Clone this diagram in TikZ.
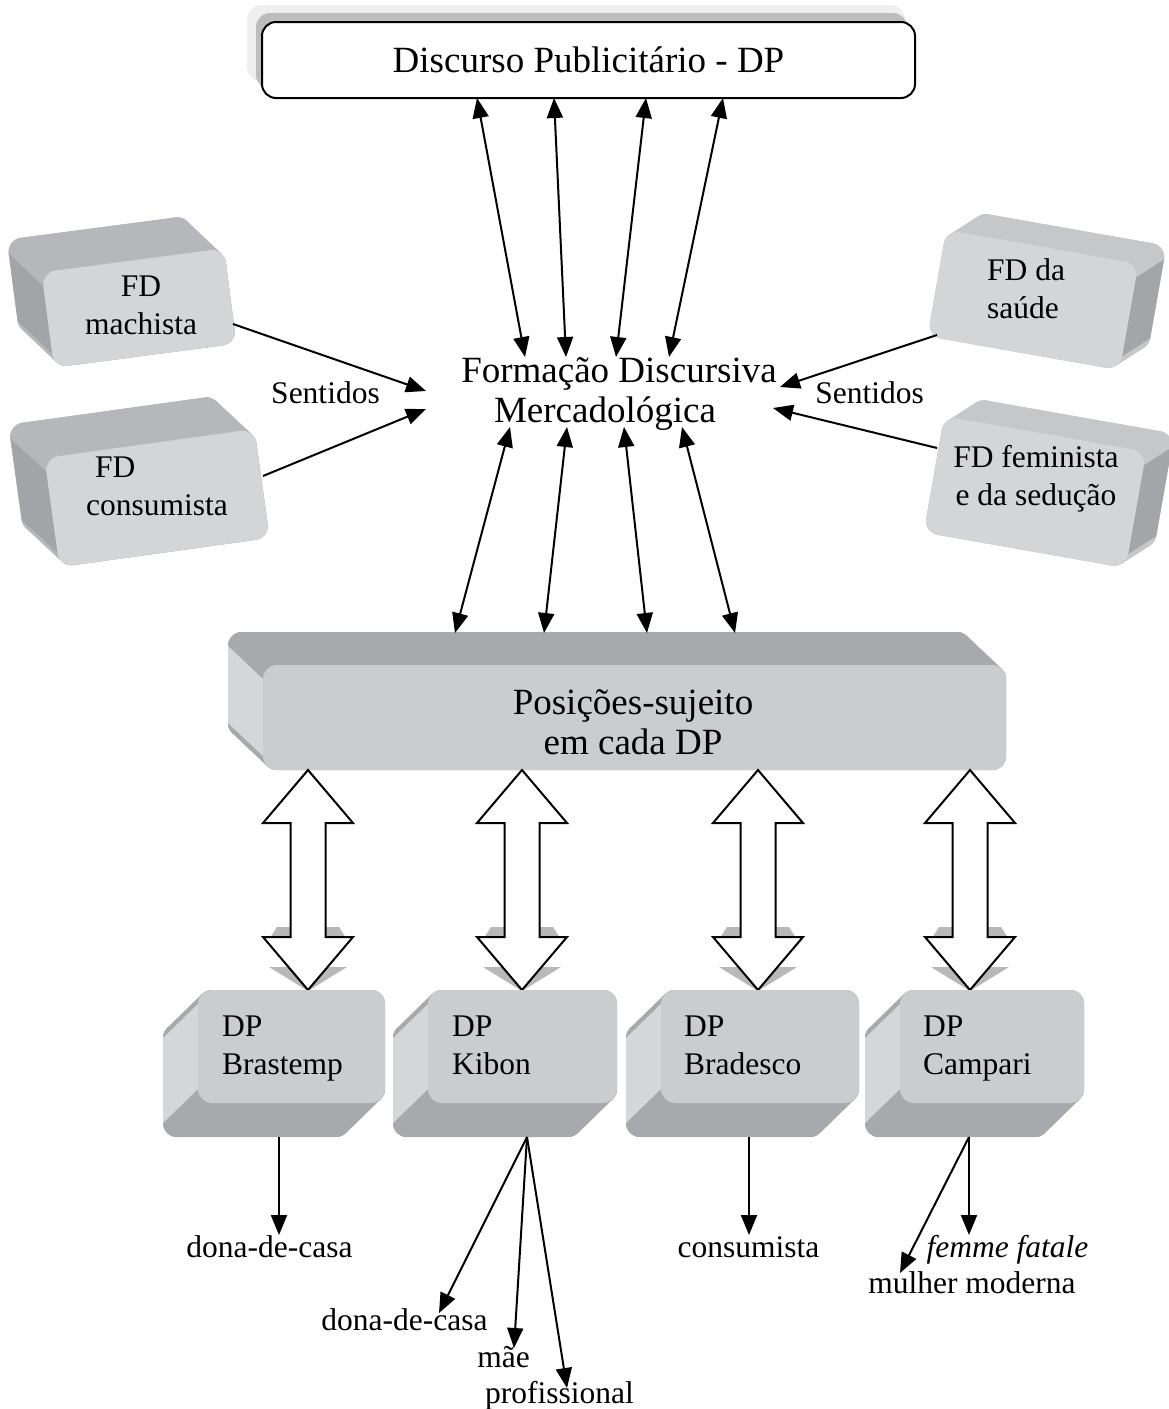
\documentclass[tikz,border=0pt]{standalone}
\usepackage{fontspec}
\setmainfont{Liberation Serif}
\usetikzlibrary{arrows.meta}
\definecolor{fdfront}{HTML}{D4D5D7}
\definecolor{fdtop}{HTML}{B6B7BA}
\definecolor{fdside}{HTML}{A3A4A7}
\definecolor{rtop}{HTML}{C6C7C9}
\definecolor{rside}{HTML}{A4A5A8}
\definecolor{psfront}{HTML}{CBCCCE}
\definecolor{pstop}{HTML}{A8A9AC}
\definecolor{psside}{HTML}{D5D6D8}
\definecolor{shadelight}{HTML}{EFEFEF}
\definecolor{shadedark}{HTML}{BDBDBD}
\definecolor{arrshadow}{HTML}{B8B8B8}
\colorlet{capfront}{fdfront}
\def\kr{14}
\newcommand\keycap[9]{%
\begin{scope}[shift={(#1,#2)},rotate=#3]
\pgfmathsetmacro\kw{#4/2-\kr}%
\pgfmathsetmacro\kh{#5/2-\kr}%
\pgfmathsetmacro\klw{2*\kr}%
\def\ko{#6}\def\kp{#7}%
\begin{scope}[fill=#8,draw=#8,line width=\klw pt,line join=round]
\filldraw (-\kw,-\kh) rectangle (\kw,\kh);
\filldraw ({-\kw+\ko},{-\kh+\kp}) rectangle ({\kw+\ko},{\kh+\kp});
\foreach \ax/\ay/\bx/\by in {-1/-1/1/-1,1/-1/1/1,1/1/-1/1,-1/1/-1/-1}
  \filldraw ({\ax*\kw},{\ay*\kh}) -- ({\bx*\kw},{\by*\kh}) -- ({\bx*\kw+\ko},{\by*\kh+\kp}) -- ({\ax*\kw+\ko},{\ay*\kh+\kp}) -- cycle;
\end{scope}
\pgfmathsetmacro\kx{(#6<0) ? -#4/2 : #4/2}%
\fill[#9] (\kx,-\kh) -- (\kx,\kh) -- ({\kx+\ko},{\kh+\kp}) -- ({\kx+\ko},{-\kh+\kp}) -- cycle;
\fill[capfront,rounded corners=\kr pt] ({-#4/2},{-#5/2}) rectangle ({#4/2},{#5/2});
\end{scope}}
\newcommand\hollowarrow[1]{%
\fill[arrshadow] ({#1-31},927) -- ({#1+31},927) -- ({#1+38},938) -- ({#1-38},938) -- cycle;
\fill[arrshadow] ({#1-39},967) -- ({#1+39},967) -- (#1,991) -- cycle;
\draw[line width=2pt,fill=white,line join=miter] (#1,770) -- ({#1+45},823) -- ({#1+17.5},823) -- ({#1+17.5},937) -- ({#1+45},937) -- (#1,990) -- ({#1-45},937) -- ({#1-17.5},937) -- ({#1-17.5},823) -- ({#1-45},823) -- cycle;}
\tikzset{
  lbltext/.style={font=\fontsize{31.5}{38}\selectfont, inner sep=0pt},
  bigtext/.style={font=\fontsize{37}{40}\selectfont, inner sep=0pt},
  both/.style={line width=2pt, {Triangle[length=20pt,width=16pt]}-{Triangle[length=20pt,width=16pt]}},
  one/.style={line width=2pt, -{Triangle[length=20pt,width=16pt]}},
}
\begin{document}
\begin{tikzpicture}[x=1pt,y=-1pt]
\useasboundingbox (0,0) rectangle (1168,1409);
\fill[white] (0,0) rectangle (1168,1409);
% top box
\fill[shadelight, rounded corners=14pt] (247,5) rectangle (905,81);
\fill[shadedark, rounded corners=14pt] (256,13) rectangle (907,89);
\node[draw, line width=2pt, fill=white, rounded corners=14pt, minimum width=653pt, minimum height=76pt, bigtext] (dp) at (588.5,60) {Discurso Publicitário - DP};
% FD boxes left
\colorlet{capfront}{fdfront}
\keycap{139}{308}{7.5}{184}{96}{-30}{-37}{fdtop}{fdside}
\node[lbltext, align=center, anchor=north] (mach) at (141,276) {FD\\machista};
\keycap{157}{498}{7.9}{212}{110}{-31}{-38}{fdtop}{fdside}
\node[lbltext, align=left, anchor=north west] (cons) at (86,457) {\hspace*{9pt}FD\\consumista};
% FD boxes right
\keycap{1033}{300}{-10}{195}{108}{24.5}{-22.6}{rtop}{rside}
\node[lbltext, align=left, anchor=north west] (saude) at (987,258.5) {FD da\\saúde};
\keycap{1035}{492}{-10}{205}{118}{24.5}{-22.6}{rtop}{rside}
\node[lbltext, align=center, anchor=north] (fem) at (1036,445.5) {FD feminista\\e da sedução};
% central text
\node[bigtext, anchor=base] (fdm1) at (619,382) {Formação Discursiva};
\node[bigtext, anchor=base] (fdm2) at (605,422) {Mercadológica};
\node[lbltext, anchor=base] (sen1) at (325.5,403) {Sentidos};
\node[lbltext, anchor=base] (sen2) at (869.5,403) {Sentidos};
% side arrows
\coordinate (machout) at (233,324); \coordinate (machin) at (426,391);
\coordinate (consout) at (263,476); \coordinate (consin) at (426,409);
\coordinate (saudeout) at (937,335); \coordinate (saudein) at (780,387);
\coordinate (femout) at (937,448); \coordinate (femin) at (773,408);
\draw[one] (machout) -- (machin);
\draw[one] (consout) -- (consin);
\draw[one] (saudeout) -- (saudein);
\draw[one] (femout) -- (femin);
% top arrows
\coordinate (t1) at (477,98); \coordinate (m1) at (525,357);
\coordinate (t2) at (554,98); \coordinate (m2) at (566,357);
\coordinate (t3) at (646,98); \coordinate (m3) at (616,357);
\coordinate (t4) at (723,98); \coordinate (m4) at (669,357);
\foreach \i in {1,2,3,4} \draw[both] (t\i) -- (m\i);
% Posicoes box
\colorlet{capfront}{psfront}
\keycap{634.5}{717.5}{0}{743}{105}{-35}{-33}{pstop}{psside}
\node[bigtext, align=center, anchor=north] (pos) at (633,689.5) {Posições-sujeito\\em cada DP};
% bottom arrows
\coordinate (b1) at (510,427); \coordinate (p1) at (455,633);
\coordinate (b2) at (567,427); \coordinate (p2) at (544,633);
\coordinate (b3) at (624,427); \coordinate (p3) at (647,633);
\coordinate (b4) at (682,427); \coordinate (p4) at (735,633);
\foreach \i in {1,2,3,4} \draw[both] (b\i) -- (p\i);
% hollow arrows
\hollowarrow{308}
\hollowarrow{522}
\hollowarrow{758}
\hollowarrow{970}
% DP boxes
\keycap{291.5}{1046.5}{0}{187}{113}{-35}{34}{pstop}{psside}
\keycap{522.5}{1046.5}{0}{189}{113}{-35}{34}{pstop}{psside}
\keycap{760}{1046.5}{0}{198}{113}{-35}{34}{pstop}{psside}
\keycap{992}{1046.5}{0}{184}{113}{-35}{34}{pstop}{psside}
\node[lbltext, align=left, anchor=north west] (bra) at (222,1016) {DP\\Brastemp};
\node[lbltext, align=left, anchor=north west] (kib) at (452,1016) {DP\\Kibon};
\node[lbltext, align=left, anchor=north west] (bde) at (684,1016) {DP\\Bradesco};
\node[lbltext, align=left, anchor=north west] (cam) at (923,1016) {DP\\Campari};
% outputs
\node[lbltext, anchor=base] (o1) at (269.5,1257) {dona-de-casa};
\node[lbltext, anchor=base] (o2) at (404.5,1330) {dona-de-casa};
\node[lbltext, anchor=base] (o3) at (503.5,1367) {mãe};
\node[lbltext, anchor=base] (o4) at (559.5,1403) {profissional};
\node[lbltext, anchor=base] (o5) at (748.5,1257) {consumista};
\node[lbltext, anchor=base] (o6) at (1007.5,1257) {\itshape femme fatale};
\node[lbltext, anchor=base] (o7) at (972,1293) {mulher moderna};
\coordinate (brao) at (279,1137); \coordinate (brat) at (279,1235);
\coordinate (kibo) at (527,1137); \coordinate (kibt1) at (439,1313);
\coordinate (kibt2) at (514,1348); \coordinate (kibt3) at (567,1388);
\coordinate (bdeo) at (749,1137); \coordinate (bdet) at (749,1235);
\coordinate (camo) at (969,1137); \coordinate (camt1) at (969,1235);
\coordinate (camt2) at (900,1273);
\draw[one] (brao) -- (brat);
\draw[one] (kibo) -- (kibt1);
\draw[one] (kibo) -- (kibt2);
\draw[one] (kibo) -- (kibt3);
\draw[one] (bdeo) -- (bdet);
\draw[one] (camo) -- (camt1);
\draw[one] (camo) -- (camt2);
\end{tikzpicture}
\end{document}
